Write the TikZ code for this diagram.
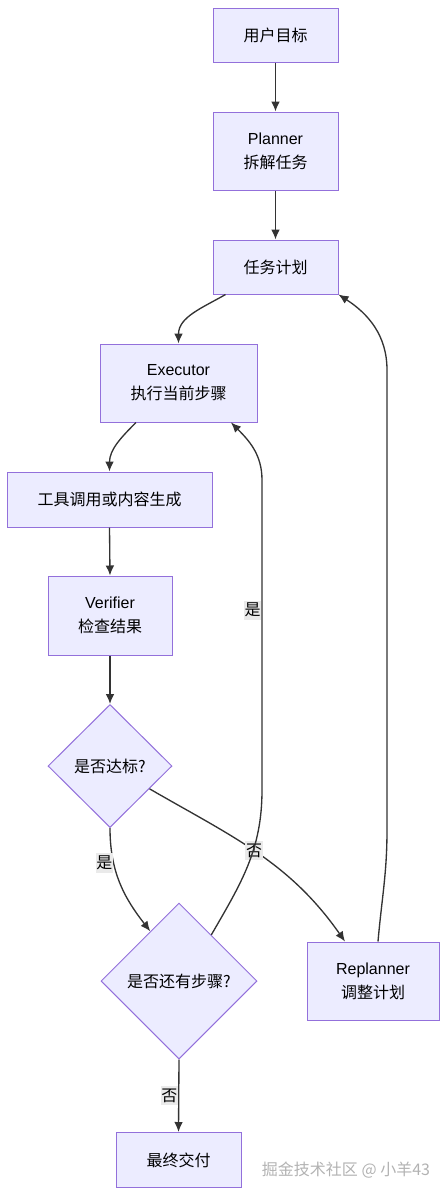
\documentclass[tikz,border=0pt]{standalone}
\usepackage{fontspec}
\setmainfont{Liberation Sans}
\newfontfamily\cjk{Noto Sans CJK SC}
\usetikzlibrary{shapes.geometric, arrows.meta, calc}
\definecolor{boxfill}{HTML}{ECECFF}
\definecolor{boxline}{HTML}{9370DB}
\definecolor{flowline}{HTML}{333333}
\definecolor{answerbg}{HTML}{EAEAEA}

\begin{document}
\begin{tikzpicture}[x=0.75pt, y=-0.75pt, font=\fontsize{12}{18}\selectfont]
% Setup the styles for the boxes, the decisions and the arrows
\tikzset{box style/.style={rectangle,
		draw=boxline,
		fill=boxfill,
		line width=0.75pt,
		align=center,
		inner sep=0pt,
		minimum width=93.75pt,
		minimum height=40.5pt},
	decision style/.style={diamond,
		aspect=1,
		draw=boxline,
		fill=boxfill,
		line width=0.75pt,
		align=center,
		inner sep=0pt},
	flow/.style={draw=flowline,
		line width=1pt,
		->,
		>={Latex[length=7.5pt,width=6.5pt]}},
	answer style/.style={fill=answerbg,
		inner xsep=0.5pt,
		inner ysep=2pt,
		font=\fontsize{12}{14}\selectfont\cjk}}
\useasboundingbox (0,0) rectangle (447,1196);

% Draw the boxes and the decisions
\node[box style] at (275.5, 35)  (goal)    {\cjk 用户目标};
\node[box style, minimum height=58.5pt] at (275.5, 151) (planner) {Planner\\{\cjk 拆解任务}};
\node[box style] at (275.5, 267) (plan)    {\cjk 任务计划};
\node[box style, minimum width=117.75pt, minimum height=58.5pt] at (178.5, 383) (exec) {Executor\\{\cjk 执行当前步骤}};
\node[box style, minimum width=153.75pt, minimum height=41.25pt] at (109.5, 499.5) (tool) {\cjk 工具调用或内容生成};
\node[box style, minimum width=93pt, minimum height=59.25pt] at (110, 615.5) (verify) {Verifier\\{\cjk 检查结果}};
\node[decision style, minimum width=93pt, minimum height=92.25pt] at (110, 766) (check) {\cjk 是否达标?};
\node[decision style, minimum width=117pt, minimum height=117pt] at (179, 981) (steps) {\cjk 是否还有步骤?};
\node[box style, minimum width=99pt, minimum height=58.5pt] at (373, 981) (replan) {Replanner\\{\cjk 调整计划}};
\node[box style, minimum height=41.25pt] at (178.5, 1160) (deliver) {\cjk 最终交付};
\node[text=gray!60, font=\fontsize{12}{14}\selectfont\cjk] at (346, 1170) (mark) {掘金技术社区 @ 小羊43};

% Bends of the long return arrows
\coordinate (backbend)   at (262, 790);
\coordinate (backtop)    at (262, 480);
\coordinate (replanbend) at (387, 830);
\coordinate (replantop)  at (387, 370);

% Connect the boxes with arrows
\draw[flow] (goal) -- (planner);
\draw[flow] (planner) -- (plan);
\draw[flow] ($(plan.south)+(-50,0)$) to[out=-150, in=90] (exec.north);
\draw[flow] ($(exec.south)+(-42.5,0)$) to[out=-135, in=90] (tool.north);
\draw[flow] (tool.south) -- (verify.north);
\draw[flow] (verify) -- (check);
\draw[flow] (check.south) to[out=-90, in=128] node[answer style, left, pos=0.3] {是} (steps.120);
\draw[flow] (check.-30) to[out=-30, in=125] node[answer style, pos=0.48] {否} ($(replan.north)+(-28,0)$);
\draw[flow] (steps.55) to[out=60, in=-90] (backbend) -- node[answer style, left, pos=0.58] {是} (backtop)
	to[out=90, in=-45] ($(exec.south)+(52.5,0)$);
\draw[flow] (steps.south) -- node[answer style, left] {否} (deliver.north);
\draw[flow] ($(replan.north)+(5,0)$) to[out=85, in=-90] (replanbend) -- (replantop)
	to[out=90, in=-33] (plan.south east);
\end{tikzpicture}
\end{document}
